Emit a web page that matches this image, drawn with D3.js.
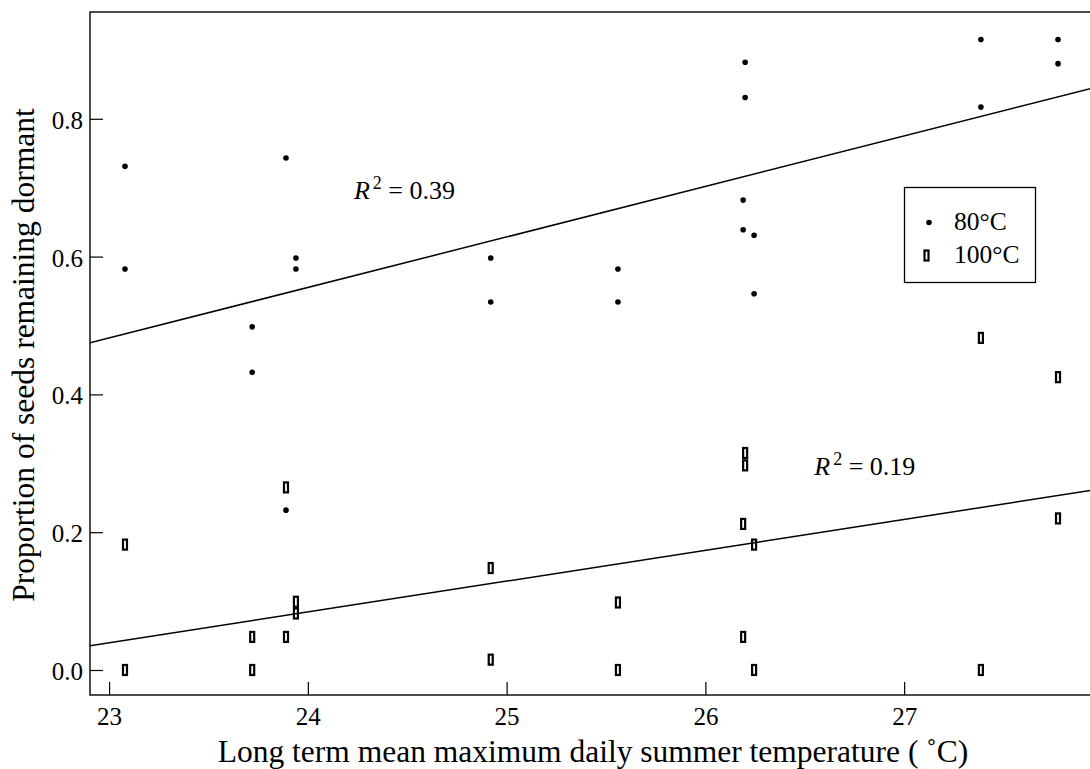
<!DOCTYPE html>
<html>
<head>
<meta charset="utf-8">
<script src="https://cdn.jsdelivr.net/npm/d3@7"></script>
<style>
  html, body { margin: 0; padding: 0; background: #fff; }
  svg { display: block; }
  text { font-family: "Liberation Serif", "Times New Roman", serif; fill: #000; }
</style>
</head>
<body>
<svg id="chart" width="1090" height="769"></svg>
<script>
// ---- Data ----
const xTicks = [23, 24, 25, 26, 27];
const yTicks = [0.0, 0.2, 0.4, 0.6, 0.8];
const seriesNames = ["80°C", "100°C"];

// 80°C treatment (filled dots)
const temp80 = [23.08, 23.08, 23.72, 23.72, 23.89, 23.89, 23.94, 23.94, 24.92, 24.92,
                25.56, 25.56, 26.20, 26.20, 26.19, 26.19, 26.245, 26.245, 27.386, 27.386,
                27.774, 27.774];
const prop80 = [0.731, 0.582, 0.498, 0.432, 0.743, 0.232, 0.598, 0.582, 0.598, 0.534,
                0.582, 0.534, 0.882, 0.831, 0.682, 0.639, 0.631, 0.546, 0.915, 0.817,
                0.915, 0.880];

// 100°C treatment (open rectangles)
const temp100 = [23.08, 23.08, 23.72, 23.72, 23.89, 23.89, 23.94, 23.94, 24.92, 24.92,
                 25.56, 25.56, 26.20, 26.20, 26.19, 26.19, 26.245, 26.245, 27.386, 27.386,
                 27.774, 27.774];
const prop100 = [0.182, 0.0, 0.048, 0.0, 0.265, 0.048, 0.099, 0.082, 0.148, 0.015,
                 0.098, 0.0, 0.315, 0.297, 0.212, 0.048, 0.182, 0.0, 0.482, 0.0,
                 0.425, 0.220];

// Regression lines: [slope, intercept]
const fit80 = [0.0733, -1.204];
const fit100 = [0.04476, -0.990];
const r2Labels = ["0.39", "0.19"];
const r2Pos = [[24.232, 0.683], [26.548, 0.283]];

// ---- Layout ----
const svg = d3.select("#chart");
const mLeft = 90, mRight = 1092, mTop = 12, mBottom = 695;

const x = d3.scaleLinear().domain([22.904, 27.945]).range([mLeft, mRight]);
const y = d3.scaleLinear().domain([-0.0363, 0.955]).range([mBottom, mTop]);

// frame
svg.append("rect")
  .attr("x", mLeft).attr("y", mTop)
  .attr("width", mRight - mLeft).attr("height", mBottom - mTop)
  .attr("fill", "none").attr("stroke", "#000").attr("stroke-width", 1.4);

// axes
const fs = 25;
const yAxis = svg.append("g").attr("transform", `translate(${mLeft},0)`)
  .call(d3.axisLeft(y).tickValues(yTicks).tickFormat(d3.format(".1f"))
        .tickSizeInner(-13).tickSizeOuter(0).tickPadding(7));
const xAxis = svg.append("g").attr("transform", `translate(0,${mBottom})`)
  .call(d3.axisBottom(x).tickValues(xTicks).tickFormat(d3.format("d"))
        .tickSizeInner(-13).tickSizeOuter(0).tickPadding(12));
[yAxis, xAxis].forEach(g => {
  g.select(".domain").remove();
  g.selectAll("line").attr("stroke", "#000").attr("stroke-width", 1.2);
  g.selectAll("text").attr("font-size", fs)
    .attr("font-family", "Liberation Serif, serif").attr("fill", "#000");
});
yAxis.selectAll("text").attr("dy", "0.38em");

// axis titles
svg.append("text")
  .attr("x", 593).attr("y", 762)
  .attr("text-anchor", "middle").attr("font-size", 31.5)
  .text("Long term mean maximum daily summer temperature ( ˚C)");
svg.append("text")
  .attr("transform", `translate(34,355) rotate(-90)`)
  .attr("text-anchor", "middle").attr("font-size", 31.5)
  .text("Proportion of seeds remaining dormant");

// clip for lines
svg.append("clipPath").attr("id", "plotclip")
  .append("rect").attr("x", mLeft).attr("y", mTop)
  .attr("width", mRight - mLeft).attr("height", mBottom - mTop);

const line = d3.line().x(d => x(d[0])).y(d => y(d[1]));
[fit80, fit100].forEach(f => {
  const dom = x.domain();
  const pts = dom.map(t => [t, f[0] * t + f[1]]);
  svg.append("path").datum(pts).attr("d", line)
    .attr("clip-path", "url(#plotclip)")
    .attr("fill", "none").attr("stroke", "#000").attr("stroke-width", 1.5);
});

// R² labels
r2Labels.forEach((lab, i) => {
  const t = svg.append("text")
    .attr("x", x(r2Pos[i][0])).attr("y", y(r2Pos[i][1]))
    .attr("font-size", 26);
  t.append("tspan").attr("font-style", "italic").text("R");
  t.append("tspan").attr("dx", 3).attr("dy", -10).attr("font-size", 18).text("2");
  t.append("tspan").attr("dy", 10).text(" = " + lab);
});

// points
const d80 = temp80.map((t, i) => [t, prop80[i]]);
const d100 = temp100.map((t, i) => [t, prop100[i]]);

svg.append("g").selectAll("circle").data(d80).join("circle")
  .attr("cx", d => x(d[0])).attr("cy", d => y(d[1])).attr("r", 2.8)
  .attr("fill", "#000");

const rw = 4, rh = 10;
svg.append("g").selectAll("rect").data(d100).join("rect")
  .attr("x", d => x(d[0]) - rw / 2).attr("y", d => y(d[1]) - rh / 2)
  .attr("width", rw).attr("height", rh)
  .attr("fill", "none").attr("stroke", "#000").attr("stroke-width", 2.2);

// legend
const lg = svg.append("g");
lg.append("rect").attr("x", 904.5).attr("y", 187.5).attr("width", 131).attr("height", 95)
  .attr("fill", "#fff").attr("stroke", "#000").attr("stroke-width", 1.3);
lg.append("circle").attr("cx", 929).attr("cy", 222.5).attr("r", 2.8).attr("fill", "#000");
lg.append("rect").attr("x", 926.5 - rw / 2).attr("y", 255.5 - rh / 2)
  .attr("width", rw).attr("height", rh)
  .attr("fill", "none").attr("stroke", "#000").attr("stroke-width", 2.2);
lg.append("text").attr("x", 954).attr("y", 229.5).attr("font-size", 25.5).text(seriesNames[0]);
lg.append("text").attr("x", 954).attr("y", 263).attr("font-size", 25.5).text(seriesNames[1]);
</script>
</body>
</html>
